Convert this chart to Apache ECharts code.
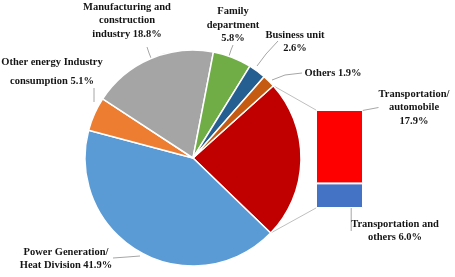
<!DOCTYPE html>
<html>
<head>
<meta charset="utf-8">
<script src="https://cdn.jsdelivr.net/npm/echarts@6/dist/echarts.min.js"></script>
<style>html,body{margin:0;padding:0;background:#fff;}#c{width:455px;height:277px;}</style>
</head>
<body>
<div id="c"></div>
<script>
// ---- data ----
const pieNames = ['Transportation', 'Power Generation/\nHeat Division', 'Other energy Industry\nconsumption', 'Manufacturing and\nconstruction\nindustry', 'Family\ndepartment', 'Business unit', 'Others'];
const pieValues = [23.9, 41.9, 5.1, 18.8, 5.8, 2.6, 1.9];
const pieSeps = ['', ' ', ' ', ' ', '\n', '\n', ' '];
const barNames = ['Transportation and\nothers', 'Transportation/\nautomobile'];
const barValues = [6.0, 17.9];
const barSeps = [' ', '\n'];

// ---- style / layout ----
const pieColors = ['#C00000', '#5B9BD5', '#ED7D31', '#A5A5A5', '#70AD47', '#255E91', '#C55A11'];
const barColors = ['#4472C4', '#FF0000'];
const FONT = {fontFamily: 'Liberation Serif, Times New Roman, serif', fontWeight: 'bold', fontSize: 10.5, color: '#151515', lineHeight: 13.5, overflow: 'none'};
const CX = 193, CY = 158, R = 108, START = 42;
const GRID = {left: 316, top: 110, width: 47, height: 98};
const pieLabelPos = [
  null,
  {x: 66, y: 259, pts: [[113, 258], [127, 257], [140, 256]]},
  {x: 52, y: 71.5, lh: 19, pts: [[94, 88], [94, 95], [94, 102]]},
  {x: 127, y: 20.5, pts: [[147, 47], [149, 53], [151, 58]]},
  {x: 233, y: 25, pts: [[233, 45], [231, 50], [229, 56]]},
  {x: 295, y: 42, pts: [[278, 41], [266, 54], [257, 66]]},
  {x: 333, y: 73, pts: [[302, 73], [285, 75], [272, 80]]}
];
const barLabelPos = [
  {x: 395, y: 231, pts: [[363, 197], [365, 205], [368, 214]]},
  {x: 414, y: 107.5, pts: [[366, 123], [369, 118], [373, 113]]}
];

const chart = echarts.init(document.getElementById('c'), null, {renderer: 'canvas'});
const fmt = v => v.toFixed(1) + '%';

const pieData = pieValues.map((v, i) => {
  const d = {value: v, name: pieNames[i], itemStyle: {color: pieColors[i]}};
  if (i === 0) d.label = {show: false};
  else if (pieLabelPos[i].lh) d.label = {lineHeight: pieLabelPos[i].lh};
  return d;
});

const barSeries = barValues.map((v, i) => ({
  type: 'bar',
  stack: 'transport',
  name: barNames[i],
  barWidth: '100%',
  data: [v],
  itemStyle: {color: barColors[i], borderColor: '#fff', borderWidth: 1},
  label: Object.assign({show: true, position: 'right', formatter: () => barNames[i] + barSeps[i] + fmt(v), align: 'center'}, FONT),
  labelLine: {show: true, lineStyle: {color: '#A6A6A6', width: 1}},
  labelLayout: () => ({x: barLabelPos[i].x, y: barLabelPos[i].y, align: 'center', verticalAlign: 'middle', labelLinePoints: barLabelPos[i].pts}),
  animation: false
}));

chart.setOption({
  animation: false,
  textStyle: {fontFamily: 'Liberation Serif, Times New Roman, serif'},
  grid: {left: GRID.left, top: GRID.top, width: GRID.width, height: GRID.height},
  xAxis: {type: 'category', data: ['Transportation'], show: false},
  yAxis: {type: 'value', min: 0, max: barValues.reduce((a, b) => a + b, 0), show: false},
  series: [{
    type: 'pie',
    center: [CX, CY],
    radius: R,
    startAngle: START,
    clockwise: true,
    data: pieData,
    itemStyle: {borderColor: '#fff', borderWidth: 1.5},
    label: Object.assign({show: true, position: 'outside', align: 'center', edgeDistance: 0, bleedMargin: 0,
      formatter: p => pieNames[p.dataIndex] + pieSeps[p.dataIndex] + fmt(pieValues[p.dataIndex])}, FONT),
    labelLine: {show: true, lineStyle: {color: '#A6A6A6', width: 1}},
    labelLayout: p => {
      const lp = pieLabelPos[p.dataIndex];
      if (!lp) return {};
      return {x: lp.x, y: lp.y, align: 'center', verticalAlign: 'middle', labelLinePoints: lp.pts};
    },
    emphasis: {disabled: true}
  }].concat(barSeries)
});

// connector lines from transportation slice edges to bar corners
const total = pieValues.reduce((a, b) => a + b, 0);
const a0 = START * Math.PI / 180;
const a1 = (START - pieValues[0] / total * 360) * Math.PI / 180;
const pTop = [CX + R * Math.cos(a0), CY - R * Math.sin(a0)];
const pBot = [CX + R * Math.cos(a1), CY - R * Math.sin(a1)];
const barTotal = barValues.reduce((a, b) => a + b, 0);
const yTop = chart.convertToPixel({yAxisIndex: 0}, barTotal);
const yBot = chart.convertToPixel({yAxisIndex: 0}, 0);
chart.setOption({
  graphic: [
    {type: 'line', shape: {x1: pTop[0], y1: pTop[1], x2: GRID.left, y2: yTop}, style: {stroke: '#BFBFBF', lineWidth: 1}, z: 0},
    {type: 'line', shape: {x1: pBot[0], y1: pBot[1], x2: GRID.left, y2: yBot}, style: {stroke: '#BFBFBF', lineWidth: 1}, z: 0}
  ]
});
</script>
</body>
</html>
